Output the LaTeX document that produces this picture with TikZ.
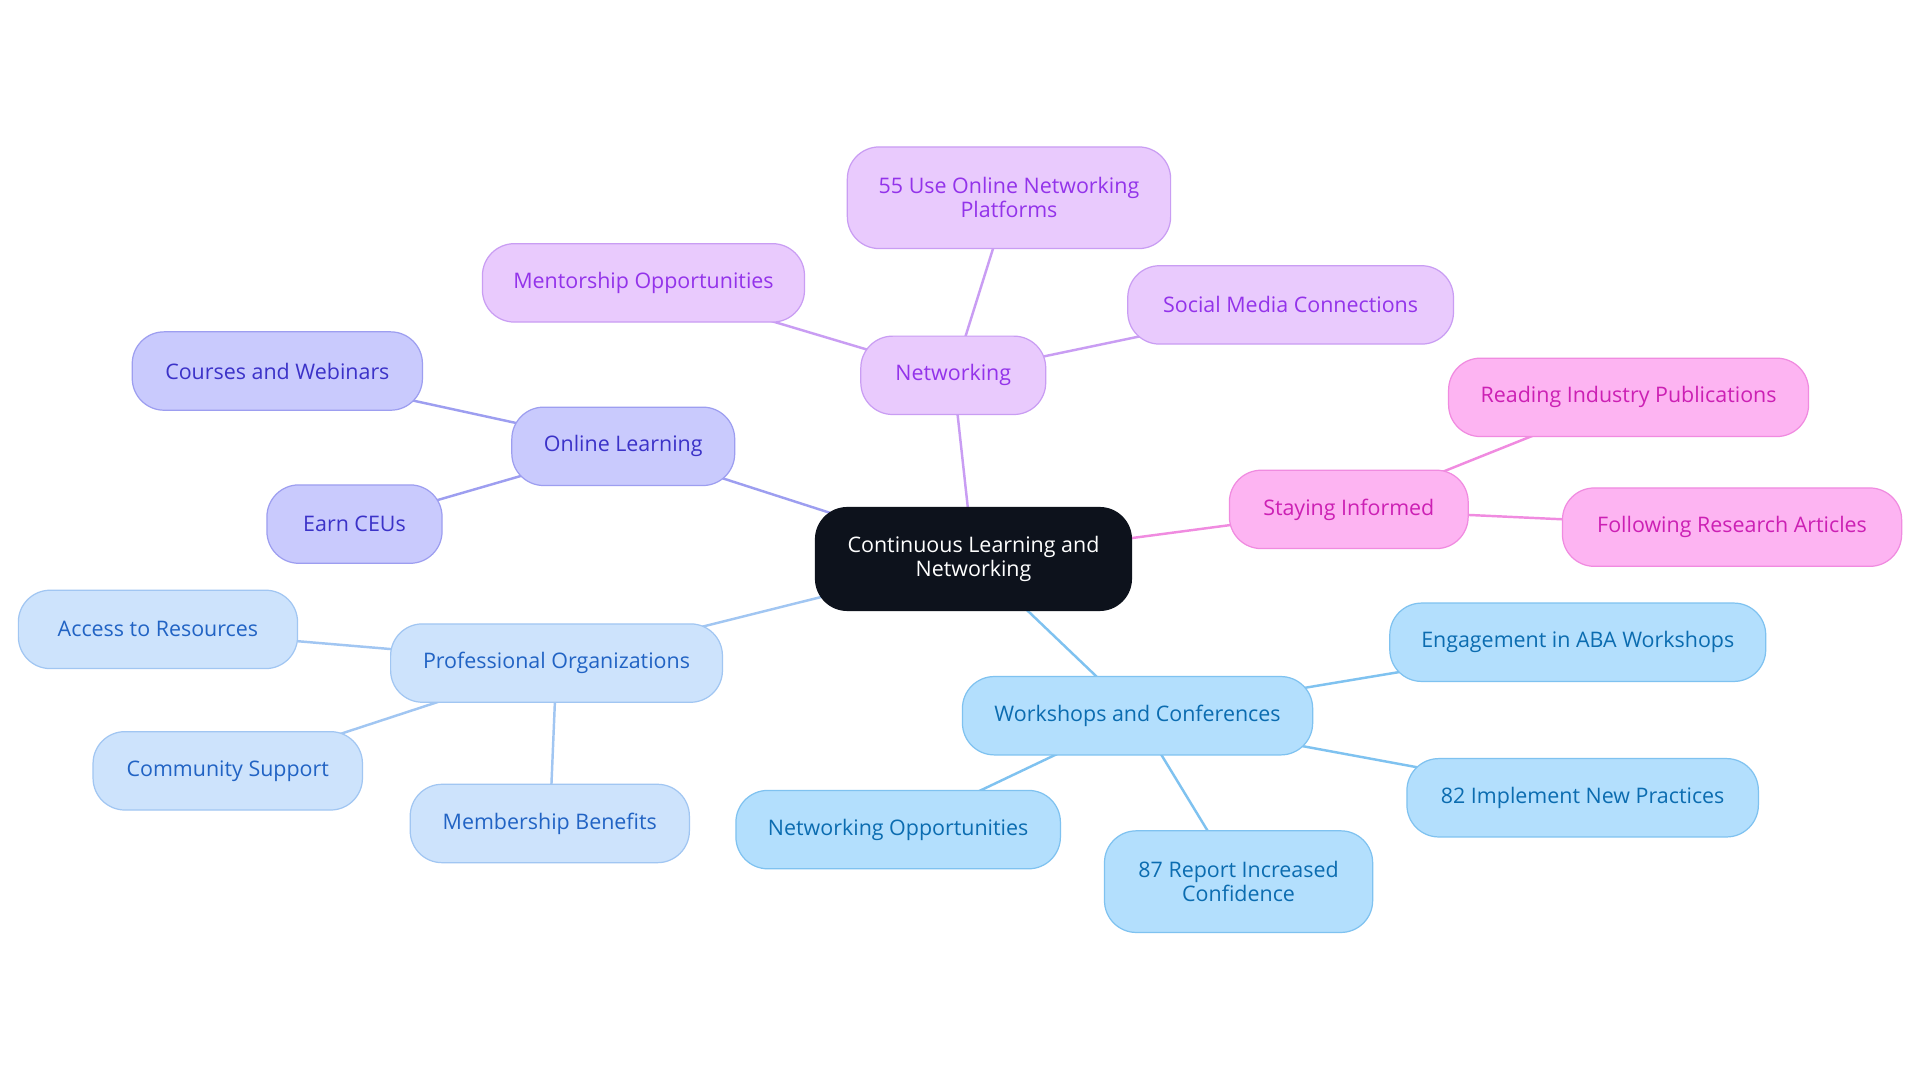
\documentclass[tikz,border=0pt]{standalone}
\usepackage{fontspec}
\setmainfont{Open Sans}
\usetikzlibrary{backgrounds}
\definecolor{cdark}{HTML}{0D121C}
\definecolor{pfill}{HTML}{E9CAFD}\definecolor{pline}{HTML}{C99DF3}\definecolor{ptext}{HTML}{9333EA}
\definecolor{ofill}{HTML}{C9CAFD}\definecolor{oline}{HTML}{9D9EF0}\definecolor{otext}{HTML}{3B32C8}
\definecolor{kfill}{HTML}{FDB4F2}\definecolor{kline}{HTML}{F08BE0}\definecolor{ktext}{HTML}{CC20B4}
\definecolor{rfill}{HTML}{CDE3FC}\definecolor{rline}{HTML}{A1C6F2}\definecolor{rtext}{HTML}{2163C4}
\definecolor{wfill}{HTML}{B3DFFD}\definecolor{wline}{HTML}{7FC2F0}\definecolor{wtext}{HTML}{0B6CB0}
\tikzset{
  mm/.style={rounded corners=26pt, line width=1pt, inner sep=0pt, align=center,
     font=\fontsize{17.5}{19.5}\selectfont, minimum height=64pt},
  centre/.style={mm, fill=cdark, draw=cdark, text=white, minimum height=84pt},
  pnode/.style={mm, fill=pfill, draw=pline, text=ptext},
  onode/.style={mm, fill=ofill, draw=oline, text=otext},
  knode/.style={mm, fill=kfill, draw=kline, text=ktext},
  rnode/.style={mm, fill=rfill, draw=rline, text=rtext},
  wnode/.style={mm, fill=wfill, draw=wline, text=wtext},
  pedge/.style={draw=pline, line width=2pt},
  oedge/.style={draw=oline, line width=2pt},
  kedge/.style={draw=kline, line width=2pt},
  redge/.style={draw=rline, line width=2pt},
  wedge/.style={draw=wline, line width=2pt},
}
\begin{document}
\begin{tikzpicture}[x=1pt,y=-1pt]
\useasboundingbox (0,0) rectangle (1568,884.4);
\node[centre, minimum width=258pt] (c) at (795,456.5) {Continuous Learning and\\Networking};
% Networking
\node[pnode, minimum width=151pt] (net) at (778.5,306.5) {Networking};
\node[pnode, minimum width=264pt, minimum height=83pt] (p55) at (824,161.5) {55 Use Online Networking\\Platforms};
\node[pnode, minimum width=263pt] (ment) at (525.5,231) {Mentorship Opportunities};
\node[pnode, minimum width=266pt] (soc) at (1054,249) {Social Media Connections};
% Online learning
\node[onode, minimum width=182pt] (onl) at (509,364.5) {Online Learning};
\node[onode, minimum width=237pt] (cou) at (226.5,303) {Courses and Webinars};
\node[onode, minimum width=143pt] (ceu) at (289.5,428) {Earn CEUs};
% Staying informed
\node[knode, minimum width=195pt] (sty) at (1101.5,416) {Staying Informed};
\node[knode, minimum width=294pt] (rea) at (1330,324.5) {Reading Industry Publications};
\node[knode, minimum width=277pt] (fol) at (1414.5,430.5) {Following Research Articles};
% Professional organizations
\node[rnode, minimum width=271pt] (pro) at (454.5,541.5) {Professional Organizations};
\node[rnode, minimum width=228pt] (acc) at (129,514) {Access to Resources};
\node[rnode, minimum width=220pt] (com) at (186,629.5) {Community Support};
\node[rnode, minimum width=228pt] (mem) at (449,672.5) {Membership Benefits};
% Workshops
\node[wnode, minimum width=286pt] (wor) at (929,584.5) {Workshops and Conferences};
\node[wnode, minimum width=307pt] (eng) at (1288.5,524.5) {Engagement in ABA Workshops};
\node[wnode, minimum width=287pt] (p82) at (1292.5,651.5) {82 Implement New Practices};
\node[wnode, minimum width=265pt] (nop) at (733.5,677.5) {Networking Opportunities};
\node[wnode, minimum width=219pt, minimum height=83pt] (p87) at (1011.5,720) {87 Report Increased\\Confidence};
\begin{scope}[on background layer]
\fill[white] (0,0) rectangle (1568,884.4);
\draw[pedge] (c.center) -- (net.center);
\draw[pedge] (net.center) -- (p55.center);
\draw[pedge] (net.center) -- (ment.center);
\draw[pedge] (net.center) -- (soc.center);
\draw[oedge] (c.center) -- (onl.center);
\draw[oedge] (onl.center) -- (cou.center);
\draw[oedge] (onl.center) -- (ceu.center);
\draw[kedge] (c.center) -- (sty.center);
\draw[kedge] (sty.center) -- (rea.center);
\draw[kedge] (sty.center) -- (fol.center);
\draw[redge] (c.center) -- (pro.center);
\draw[redge] (pro.center) -- (acc.center);
\draw[redge] (pro.center) -- (com.center);
\draw[redge] (pro.center) -- (mem.center);
\draw[wedge] (c.center) -- (wor.center);
\draw[wedge] (wor.center) -- (eng.center);
\draw[wedge] (wor.center) -- (p82.center);
\draw[wedge] (wor.center) -- (nop.center);
\draw[wedge] (wor.center) -- (p87.center);
\end{scope}
\end{tikzpicture}
\end{document}
